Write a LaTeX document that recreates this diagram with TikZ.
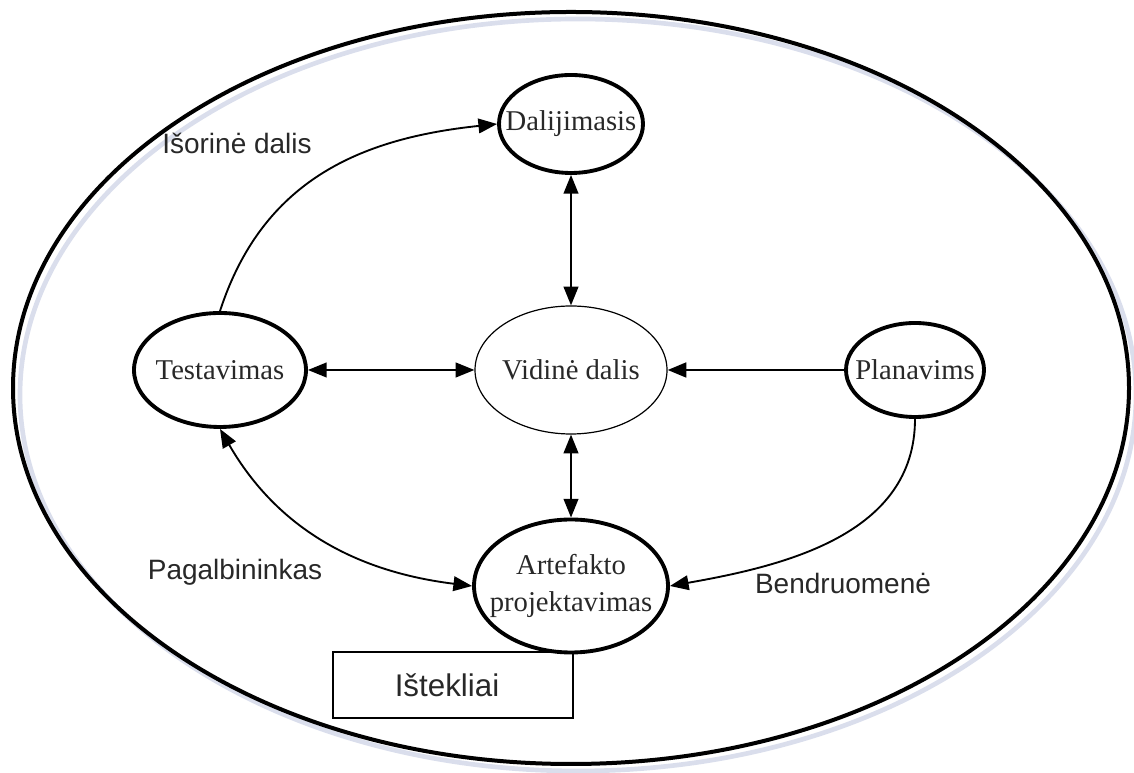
\documentclass[tikz,border=0pt]{standalone}
\usepackage{fontspec}
\setmainfont{Liberation Serif}
\setsansfont{Liberation Sans}
\usetikzlibrary{shapes.geometric,arrows.meta}
\definecolor{shadowc}{RGB}{218,222,236}
\definecolor{txt}{RGB}{40,40,40}
\begin{document}
\begin{tikzpicture}[x=0.75pt,y=0.75pt]
\tikzset{
  thicknode/.style={ellipse, draw, line width=2.9pt, fill=white, inner sep=0pt},
  thinnode/.style={ellipse, draw, line width=0.9pt, fill=white, inner sep=0pt},
  nodetext/.style={font=\fontsize{21.5}{28}\selectfont, text=txt, align=center},
  lbl/.style={font=\sffamily\fontsize{21}{25}\selectfont, text=txt},
  conn/.style={line width=1.4pt, -{Triangle[length=14pt,width=11pt]}},
  biconn/.style={line width=1.4pt, {Triangle[length=14pt,width=11pt]}-{Triangle[length=14pt,width=11pt]}},
}
\useasboundingbox (0,0) rectangle (1134,773);
% outer ellipse with soft shadow
\draw[shadowc, line width=3.5pt] (578,378) ellipse [x radius=418.5pt, y radius=282pt];
\draw[line width=3pt] (571,385) ellipse [x radius=418.5pt, y radius=282pt];

% resource box (behind the ellipse)
\node[draw, line width=0.9pt, minimum width=180pt, minimum height=49.5pt, inner sep=0pt] (ist) at (453,88) {};
\node[lbl, font=\sffamily\fontsize{23.5}{27}\selectfont] (istt) at (447,88) {Ištekliai};

% nodes
\node[thicknode, minimum width=108pt, minimum height=73.5pt, label={[nodetext]center:Dalijimasis}] (dal) at (571,649) {};
\node[thinnode, minimum width=144pt, minimum height=96pt, label={[nodetext]center:Vidinė dalis}] (vid) at (571,403) {};
\node[thicknode, minimum width=129pt, minimum height=85.5pt, label={[nodetext]center:Testavimas}] (tes) at (220,403) {};
\node[thicknode, minimum width=103.5pt, minimum height=70.5pt, label={[nodetext]center:Planavims}] (pla) at (915,403) {};
\node[thicknode, minimum width=145.5pt, minimum height=99.75pt, label={[nodetext]center:{Artefakto\\projektavimas}}] (art) at (571,187) {};

% free labels
\node[lbl] (isor) at (237,630) {Išorinė dalis};
\node[lbl] (pag) at (235,201) {Pagalbininkas};
\node[lbl] (ben) at (843,190) {Bendruomenė};

% connectors
\draw[conn] (tes.north) to[out=72, in=186, looseness=1.05] (dal.west);
\draw[biconn] (dal.south) -- (vid.north);
\draw[biconn] (tes.east) -- (vid.west);
\draw[conn, line width=2pt] (pla.west) -- (vid.east);
\draw[biconn] (vid.south) -- (art.north);
\draw[biconn] (tes.south) to[out=-60, in=173] (art.west);
\draw[conn] (pla.south) to[out=-90, in=10] (art.east);
\end{tikzpicture}
\end{document}
